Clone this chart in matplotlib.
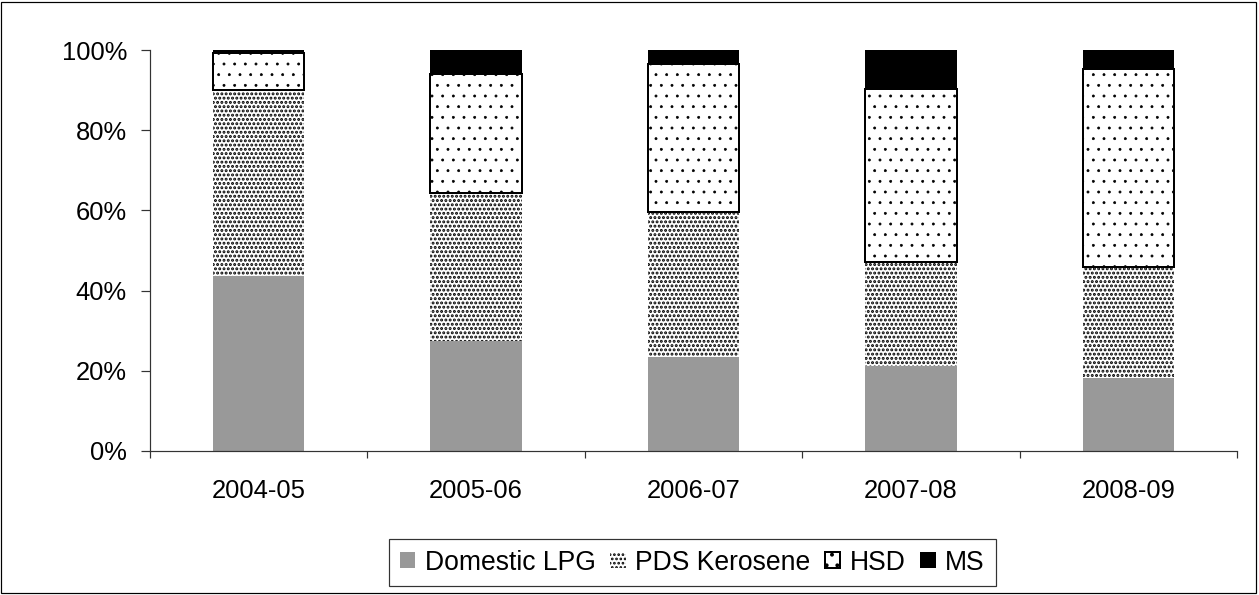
import numpy as np
import matplotlib
matplotlib.use("Agg")
import matplotlib.pyplot as plt
from matplotlib.patches import Rectangle

DPI = 128                    # hatch unit = 1 inch, so dpi sets the dot spacing
PX = 72.0 / DPI              # one pixel in points

plt.rcParams['font.family'] = ['Liberation Sans', 'DejaVu Sans']

# share of each product (%)
anos = ['2004-05', '2005-06', '2006-07', '2007-08', '2008-09']
lpg = [43.6, 27.4, 23.4, 21.3, 18.2]
querosene = [46.4, 36.9, 36.2, 25.8, 27.7]
hsd = [9.2, 29.7, 36.9, 43.2, 49.3]
ms = [0.8, 6.0, 3.5, 9.7, 4.8]

LARGURA = 0.42
FONTE = 25.5 * PX
FONTE_LEG = 26.5 * PX

fig = plt.figure(figsize=(1259 / DPI, 595 / DPI), dpi=DPI)
ax = fig.add_axes([150 / 1259, 1 - 451 / 595, 1087 / 1259, 401 / 595])

x = np.arange(len(anos))
base = np.zeros(len(anos))

b1 = ax.bar(x, lpg, LARGURA, bottom=base, color='#999999', linewidth=0, label='Domestic LPG')
base = base + np.array(lpg)
with plt.rc_context({'hatch.linewidth': 2.0 * PX}):
    b2 = ax.bar(x, querosene, LARGURA, bottom=base, facecolor='white', edgecolor='black',
                linewidth=0, hatch='.....', label='PDS Kerosene')
base = base + np.array(querosene)
with plt.rc_context({'hatch.linewidth': 0.7 * PX}):
    b3 = ax.bar(x, hsd, LARGURA, bottom=base, facecolor='white', edgecolor='black',
                linewidth=2 * PX, hatch='..', label='HSD')
base = base + np.array(hsd)
b4 = ax.bar(x, ms, LARGURA, bottom=base, color='black', linewidth=0, label='MS')

ax.set_xlim(-0.5, len(anos) - 0.5)
ax.set_ylim(0, 100)
ax.set_yticks(np.arange(0, 101, 20))
ax.set_yticklabels([f'{v}%' for v in range(0, 101, 20)], fontsize=FONTE)
ax.set_xticks(x)
ax.set_xticklabels(anos, fontsize=FONTE)
ax.set_xticks(np.arange(-0.5, len(anos), 1), minor=True)
ax.tick_params(axis='x', which='major', length=0, pad=28 * PX)
ax.tick_params(axis='x', which='minor', length=7 * PX, width=1.2 * PX, color='#333333', direction='out')
ax.tick_params(axis='y', length=9 * PX, width=1.2 * PX, color='#333333', direction='out', pad=14 * PX)

for lado in ['top', 'right']:
    ax.spines[lado].set_visible(False)
for lado in ['left', 'bottom']:
    ax.spines[lado].set_color('#333333')
    ax.spines[lado].set_linewidth(1.2 * PX)

leg = fig.legend(handles=[b1, b2, b3, b4], loc='center', bbox_to_anchor=(692.5 / 1259, 1 - 562.5 / 595),
                 ncol=4, fontsize=FONTE_LEG, frameon=True, fancybox=False,
                 handlelength=0.58, handleheight=0.58, handletextpad=0.36,
                 columnspacing=0.55, borderpad=0.4, borderaxespad=0)
leg.get_frame().set_edgecolor('black')
leg.get_frame().set_linewidth(1.2 * PX)
for h in leg.legend_handles:
    if h.get_label() == 'HSD':
        h.set_linewidth(1.5 * PX)

fig.patches.append(Rectangle((1 / 1259, 2 / 595), 1255 / 1259, 591 / 595, transform=fig.transFigure,
                             fill=False, edgecolor='black', linewidth=1.2 * PX))

fig.savefig('out.png', dpi=DPI)
